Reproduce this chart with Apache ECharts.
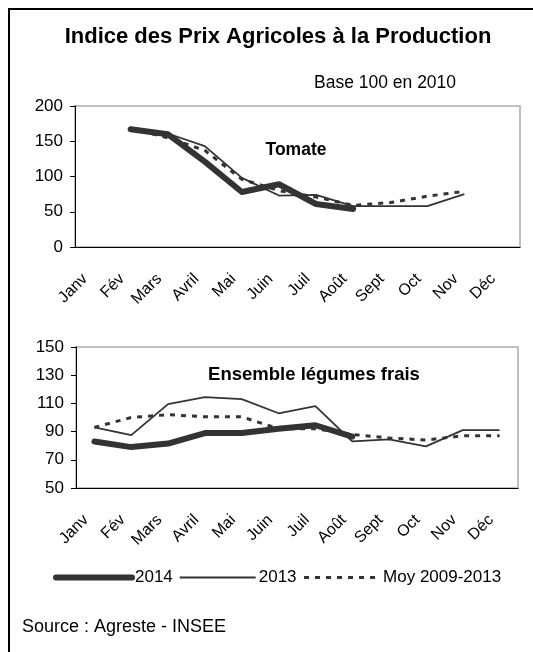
<!DOCTYPE html>
<html>
<head>
<meta charset="utf-8">
<script src="https://cdn.jsdelivr.net/npm/echarts@6/dist/echarts.min.js"></script>
<style>
  html, body { margin: 0; padding: 0; background: #fff; }
  #main { width: 533px; height: 652px; }
</style>
</head>
<body>
<div id="main"></div>
<script>
// mois (axe des abscisses)
const months = ['Janv', 'Fév', 'Mars', 'Avril', 'Mai', 'Juin', 'Juil', 'Août', 'Sept', 'Oct', 'Nov', 'Déc'];

// Tomate
const tomate2014 = [null, 167, 160, 121, 78, 89, 61, 54, null, null, null, null];
const tomate2013 = [null, 168, 161, 143, 98, 73, 74, 58, 58, 58, 75, null];
const tomateMoy = [null, 168, 155, 137, 96, 80, 71, 59, 63, 72, 79, null];

// Ensemble légumes frais
const legumes2014 = [83, 79, 81.5, 89, 89, 92, 94.5, 86.5, null, null, null, null];
const legumes2013 = [93, 87.5, 109.5, 114.5, 113, 103, 108, 83, 84.5, 79.5, 91, 91];
const legumesMoy = [93, 100, 102, 100.5, 100.5, 92, 92, 88, 85.5, 84, 87, 87];

const seriesNames = ['2014', '2013', 'Moy 2009-2013'];

const font = 'Liberation Sans, Arial, sans-serif';
const ink = '#333333';

const myChart = echarts.init(document.getElementById('main'));

const lineStyles = [
    { width: 6, color: ink, type: 'solid', cap: 'round', join: 'round' },
    { width: 1.8, color: ink, type: 'solid' },
    { width: 3, color: ink, type: [5, 6] }
];

function xAxisFor(grid) {
    return {
        type: 'category',
        gridIndex: grid,
        data: months,
        boundaryGap: true,
        axisLine: { lineStyle: { color: '#000', width: 1 } },
        axisTick: { length: 5, lineStyle: { color: '#000' } },
        // étiquettes inclinées, décalées sous le repère comme dans Excel
        axisLabel: { rotate: 45, color: '#000', fontSize: 16, fontFamily: font, margin: 21,
                     padding: [0, 12, 0, 0], interval: 0 },
        splitLine: { show: false }
    };
}

function yAxisFor(grid, min, max, step) {
    return {
        type: 'value',
        gridIndex: grid,
        min: min,
        max: max,
        interval: step,
        axisLine: { show: true, lineStyle: { color: '#000', width: 1 } },
        axisTick: { show: true, length: 5, lineStyle: { color: '#000' } },
        axisLabel: { color: '#000', fontSize: 17, fontFamily: font, margin: 12 },
        splitLine: { show: false }
    };
}

function line(name, data, idx, grid) {
    return {
        name: name,
        type: 'line',
        xAxisIndex: grid,
        yAxisIndex: grid,
        data: data,
        symbol: 'none',
        connectNulls: false,
        lineStyle: lineStyles[idx],
        itemStyle: { color: ink },
        z: 3 - idx
    };
}

myChart.setOption({
    backgroundColor: '#fff',
    animation: false,
    textStyle: { fontFamily: font },
    title: [
        { text: 'Indice des Prix Agricoles à la Production', left: 273, top: 21, textAlign: 'center',
          textStyle: { fontSize: 22, fontWeight: 'bold', color: '#000', fontFamily: font } },
        { text: 'Base 100 en 2010', left: 309, top: 69,
          textStyle: { fontSize: 17.5, fontWeight: 'normal', color: '#000', fontFamily: font } },
        { text: 'Tomate', left: 291, top: 136, textAlign: 'center',
          textStyle: { fontSize: 17.5, fontWeight: 'bold', color: '#000', fontFamily: font } },
        { text: 'Ensemble légumes frais', left: 309, top: 360, textAlign: 'center',
          textStyle: { fontSize: 18.5, fontWeight: 'bold', color: '#000', fontFamily: font } },
        { text: 'Source : Agreste - INSEE', left: 17, top: 613,
          textStyle: { fontSize: 18, fontWeight: 'normal', color: '#000', fontFamily: font } }
    ],
    legend: {
        left: 48,
        top: 564,
        itemWidth: 76,
        itemHeight: 10,
        itemGap: 6,
        textStyle: { fontSize: 17, color: '#000', fontFamily: font, padding: [0, 0, 0, -2] },
        data: [
            { name: seriesNames[0], itemStyle: { opacity: 0 }, lineStyle: { width: 6, color: ink, cap: 'round' } },
            { name: seriesNames[1], itemStyle: { opacity: 0 }, lineStyle: { width: 1.8, color: ink } },
            { name: seriesNames[2], itemStyle: { opacity: 0 }, lineStyle: { width: 3, color: ink, type: [5, 6] } }
        ]
    },
    grid: [
        { left: 75, top: 106, width: 445, height: 141, show: true, borderColor: '#c0c0c0', borderWidth: 2 },
        { left: 76, top: 347, width: 442, height: 141, show: true, borderColor: '#c0c0c0', borderWidth: 2 }
    ],
    xAxis: [xAxisFor(0), xAxisFor(1)],
    yAxis: [yAxisFor(0, 0, 200, 50), yAxisFor(1, 50, 150, 20)],
    series: [
        line(seriesNames[0], tomate2014, 0, 0),
        line(seriesNames[1], tomate2013, 1, 0),
        line(seriesNames[2], tomateMoy, 2, 0),
        line(seriesNames[0], legumes2014, 0, 1),
        line(seriesNames[1], legumes2013, 1, 1),
        line(seriesNames[2], legumesMoy, 2, 1)
    ],
    graphic: [
        // cadre (gauche et haut)
        { type: 'line', shape: { x1: 9, y1: 9, x2: 9, y2: 652 }, style: { stroke: '#000', lineWidth: 2 } },
        { type: 'line', shape: { x1: 8, y1: 9, x2: 533, y2: 9 }, style: { stroke: '#000', lineWidth: 2 } }
    ]
});
</script>
</body>
</html>
